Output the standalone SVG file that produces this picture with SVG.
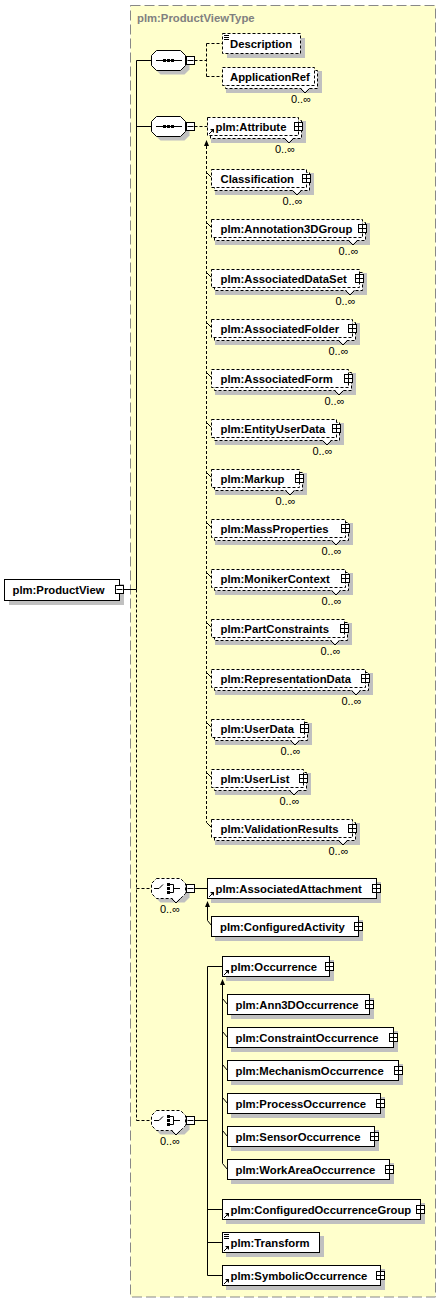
<svg xmlns="http://www.w3.org/2000/svg" xmlns:xlink="http://www.w3.org/1999/xlink" width="441" height="1303" viewBox="0 0 441 1303">
<style>
.t{font-family:"Liberation Sans",Arial,sans-serif;font-weight:bold;font-size:11.3px;fill:#000}
.m{font-family:"Liberation Sans",Arial,sans-serif;font-size:11px;fill:#000;text-anchor:end}
.ttl{font-family:"Liberation Sans",Arial,sans-serif;font-weight:bold;font-size:11.3px;fill:#808080}
.box{fill:#fff;stroke:#000;stroke-width:1}
.dbox{fill:#fff;stroke:#000;stroke-width:1;stroke-dasharray:3,2}
.sh{fill:#c0c0c0}
.ln{stroke:#000;stroke-width:1;fill:none}
.dl{stroke:#000;stroke-width:1;fill:none;stroke-dasharray:3,2}
</style>
<defs>
<g id="plus"><rect x="-4" y="-4" width="8" height="8" fill="#fff" stroke="#000"/><path d="M-4 0H4M0 -4V4" stroke="#000"/></g>
<g id="minus"><rect x="-4" y="-4" width="8" height="8" fill="#fff" stroke="#000"/><path d="M-3 0H3" stroke="#000"/></g>
<g id="ref"><path d="M1.5 -1.5L4.5 -4.5" stroke="#000"/><path d="M2.5 -6.5H6.5V-2.5Z" fill="#000"/></g>
<g id="doc"><path d="M1.5 2H6.5M1.5 4H6.5M1.5 6H6.5" stroke="#000"/></g>
<path id="oct" d="M156.5 -10H180.5L185.5 -5V5L180.5 10H156.5L151.5 5V-5Z"/>
<g id="seqIcon"><path d="M156 0H182" stroke="#000"/><rect x="163" y="-1.5" width="3" height="3" fill="#000"/><rect x="167" y="-1.5" width="3" height="3" fill="#000"/><rect x="171" y="-1.5" width="3" height="3" fill="#000"/></g>
<g id="chIcon"><path d="M154 0H159L163 -4M170 -4H173.5V4H170M173.5 0H180" stroke="#000" fill="none"/><rect x="167" y="-5.5" width="3" height="3" fill="#000"/><rect x="167" y="-1.5" width="3" height="3" fill="#000"/><rect x="167" y="2.5" width="3" height="3" fill="#000"/></g>
</defs>

<g id="background">
<rect x="130.5" y="5.5" width="305" height="1291.5" fill="#ffffcc" stroke="#888" stroke-dasharray="10,4"/>
<text class="ttl" x="137" y="22">plm:ProductViewType</text>
</g>

<g id="connectors">
<path class="ln" d="M124 589.5H136.5M136.5 60.5V589.5M136.5 60.5H151.5M136.5 126.5H151.5"/>
<path class="dl" d="M136.5 589.5V1120.5M136.5 888.5H151.5M136.5 1120.5H151.5"/>
<path class="dl" d="M194.5 60.5H206.5M206.5 43.5V76.5M206.5 43.5H222.5M206.5 76.5H222.5"/>
<path class="dl" d="M194.5 126.5H207.5"/>
<polygon points="206.5,140 204,146 209,146" fill="#000"/>
<path class="dl" d="M206.5 146V822.5"/>
<path class="ln" d="M206.5 172.5L211.5 177.5M206.5 222.5L211.5 227.5M206.5 272.5L211.5 277.5M206.5 322.5L211.5 327.5M206.5 372.5L211.5 377.5M206.5 422.5L211.5 427.5M206.5 472.5L211.5 477.5M206.5 522.5L211.5 527.5M206.5 572.5L211.5 577.5M206.5 622.5L211.5 627.5M206.5 672.5L211.5 677.5M206.5 722.5L211.5 727.5M206.5 772.5L211.5 777.5M206.5 822.5L211.5 827.5"/>
<path class="ln" d="M194.5 888.5H207.5M207.5 907V920.5L211.5 925.5"/>
<polygon points="207.5,901 205,907 210,907" fill="#000"/>
<path class="ln" d="M194.5 1120.5H207.5M207.5 966.5V1275.5M207.5 966.5H222.5M207.5 1209.5H222.5M207.5 1242.5H222.5M207.5 1275.5H222.5"/>
<polygon points="222.5,979 220,985 225,985" fill="#000"/>
<path class="ln" d="M222.5 985V1163.5M222.5 998.5L227.5 1004.5M222.5 1031.5L227.5 1037.5M222.5 1064.5L227.5 1070.5M222.5 1097.5L227.5 1103.5M222.5 1130.5L227.5 1136.5M222.5 1163.5L227.5 1169.5"/>
</g>

<g id="ProductView">
<rect class="sh" x="9" y="584" width="115" height="21"/>
<rect class="box" x="4.5" y="579.5" width="115" height="21"/>
<text class="t" x="12.5" y="594">plm:ProductView</text>
<use xlink:href="#minus" transform="translate(119.5,589.5)"/>
</g>

<g id="seq1">
<use xlink:href="#oct" class="sh" transform="translate(4,64.5)"/>
<use xlink:href="#oct" fill="#fff" stroke="#000" transform="translate(0,60.5)"/>
<use xlink:href="#seqIcon" transform="translate(0,60.5)"/>
<use xlink:href="#minus" transform="translate(190.5,60.5)"/>
</g>

<g id="Description">
<rect class="sh" x="227" y="38" width="78" height="20"/>
<rect class="dbox" x="222.5" y="33.5" width="78" height="20"/>
<use xlink:href="#doc" transform="translate(222.5,33.5)"/>
<text class="t" x="230" y="47.5">Description</text>
</g>

<g id="ApplicationRef">
<rect class="sh" x="226" y="71" width="96" height="22"/>
<rect class="dbox" x="225.5" y="70.5" width="92" height="18"/>
<rect class="dbox" x="222.5" y="67.5" width="92" height="18"/>
<polygon points="301,88 309,88 305,92" fill="#fff"/>
<polyline class="ln" points="300.5,88.5 305,93 309.5,88.5"/>
<text class="t" x="230" y="81">ApplicationRef</text>
<text class="m" x="311" y="102.5">0..∞</text>
</g>

<g id="seq2">
<use xlink:href="#oct" class="sh" transform="translate(4,130.5)"/>
<use xlink:href="#oct" fill="#fff" stroke="#000" transform="translate(0,126.5)"/>
<use xlink:href="#seqIcon" transform="translate(0,126.5)"/>
<use xlink:href="#minus" transform="translate(190.5,126.5)"/>
</g>

<g id="Attribute">
<rect class="sh" x="211" y="121" width="95" height="22"/>
<rect class="dbox" x="210.5" y="120.5" width="91" height="18"/>
<rect class="dbox" x="207.5" y="117.5" width="91" height="18"/>
<polygon points="285,138 293,138 289,142" fill="#fff"/>
<polyline class="ln" points="284.5,138.5 289,143 293.5,138.5"/>
<use xlink:href="#ref" transform="translate(207.5,135.5)"/>
<text class="t" x="215.5" y="131">plm:Attribute</text>
<use xlink:href="#plus" transform="translate(298.5,126.5)"/>
<text class="m" x="295" y="153">0..∞</text>
</g>

<g id="Classification">
<rect class="sh" x="215" y="173" width="99" height="22"/>
<rect class="dbox" x="214.5" y="172.5" width="95" height="18"/>
<rect class="dbox" x="211.5" y="169.5" width="95" height="18"/>
<polygon points="293,190 301,190 297,194" fill="#fff"/>
<polyline class="ln" points="292.5,190.5 297,195 301.5,190.5"/>
<text class="t" x="220.5" y="183">Classification</text>
<use xlink:href="#plus" transform="translate(306.5,178.5)"/>
<text class="m" x="302.5" y="204.5">0..∞</text>
</g>

<g id="Annotation3DGroup">
<rect class="sh" x="215" y="223" width="155" height="22"/>
<rect class="dbox" x="214.5" y="222.5" width="151" height="18"/>
<rect class="dbox" x="211.5" y="219.5" width="151" height="18"/>
<polygon points="349,240 357,240 353,244" fill="#fff"/>
<polyline class="ln" points="348.5,240.5 353,245 357.5,240.5"/>
<text class="t" x="220.5" y="233">plm:Annotation3DGroup</text>
<use xlink:href="#plus" transform="translate(362.5,228.5)"/>
<text class="m" x="358.5" y="254.5">0..∞</text>
</g>

<g id="AssociatedDataSet">
<rect class="sh" x="215" y="273" width="152" height="22"/>
<rect class="dbox" x="214.5" y="272.5" width="148" height="18"/>
<rect class="dbox" x="211.5" y="269.5" width="148" height="18"/>
<polygon points="346,290 354,290 350,294" fill="#fff"/>
<polyline class="ln" points="345.5,290.5 350,295 354.5,290.5"/>
<text class="t" x="220.5" y="283">plm:AssociatedDataSet</text>
<use xlink:href="#plus" transform="translate(359.5,278.5)"/>
<text class="m" x="355.5" y="304.5">0..∞</text>
</g>

<g id="AssociatedFolder">
<rect class="sh" x="215" y="323" width="145" height="22"/>
<rect class="dbox" x="214.5" y="322.5" width="141" height="18"/>
<rect class="dbox" x="211.5" y="319.5" width="141" height="18"/>
<polygon points="339,340 347,340 343,344" fill="#fff"/>
<polyline class="ln" points="338.5,340.5 343,345 347.5,340.5"/>
<text class="t" x="220.5" y="333">plm:AssociatedFolder</text>
<use xlink:href="#plus" transform="translate(352.5,328.5)"/>
<text class="m" x="348.5" y="354.5">0..∞</text>
</g>

<g id="AssociatedForm">
<rect class="sh" x="215" y="373" width="141" height="22"/>
<rect class="dbox" x="214.5" y="372.5" width="137" height="18"/>
<rect class="dbox" x="211.5" y="369.5" width="137" height="18"/>
<polygon points="335,390 343,390 339,394" fill="#fff"/>
<polyline class="ln" points="334.5,390.5 339,395 343.5,390.5"/>
<text class="t" x="220.5" y="383">plm:AssociatedForm</text>
<use xlink:href="#plus" transform="translate(348.5,378.5)"/>
<text class="m" x="344.5" y="404.5">0..∞</text>
</g>

<g id="EntityUserData">
<rect class="sh" x="215" y="423" width="129" height="22"/>
<rect class="dbox" x="214.5" y="422.5" width="125" height="18"/>
<rect class="dbox" x="211.5" y="419.5" width="125" height="18"/>
<polygon points="323,440 331,440 327,444" fill="#fff"/>
<polyline class="ln" points="322.5,440.5 327,445 331.5,440.5"/>
<text class="t" x="220.5" y="433">plm:EntityUserData</text>
<use xlink:href="#plus" transform="translate(336.5,428.5)"/>
<text class="m" x="332.5" y="454.5">0..∞</text>
</g>

<g id="Markup">
<rect class="sh" x="215" y="473" width="92" height="22"/>
<rect class="dbox" x="214.5" y="472.5" width="88" height="18"/>
<rect class="dbox" x="211.5" y="469.5" width="88" height="18"/>
<polygon points="286,490 294,490 290,494" fill="#fff"/>
<polyline class="ln" points="285.5,490.5 290,495 294.5,490.5"/>
<text class="t" x="220.5" y="483">plm:Markup</text>
<use xlink:href="#plus" transform="translate(299.5,478.5)"/>
<text class="m" x="295.5" y="504.5">0..∞</text>
</g>

<g id="MassProperties">
<rect class="sh" x="215" y="523" width="138" height="22"/>
<rect class="dbox" x="214.5" y="522.5" width="134" height="18"/>
<rect class="dbox" x="211.5" y="519.5" width="134" height="18"/>
<polygon points="332,540 340,540 336,544" fill="#fff"/>
<polyline class="ln" points="331.5,540.5 336,545 340.5,540.5"/>
<text class="t" x="220.5" y="533">plm:MassProperties</text>
<use xlink:href="#plus" transform="translate(345.5,528.5)"/>
<text class="m" x="341.5" y="554.5">0..∞</text>
</g>

<g id="MonikerContext">
<rect class="sh" x="215" y="573" width="138" height="22"/>
<rect class="dbox" x="214.5" y="572.5" width="134" height="18"/>
<rect class="dbox" x="211.5" y="569.5" width="134" height="18"/>
<polygon points="332,590 340,590 336,594" fill="#fff"/>
<polyline class="ln" points="331.5,590.5 336,595 340.5,590.5"/>
<text class="t" x="220.5" y="583">plm:MonikerContext</text>
<use xlink:href="#plus" transform="translate(345.5,578.5)"/>
<text class="m" x="341.5" y="604.5">0..∞</text>
</g>

<g id="PartConstraints">
<rect class="sh" x="215" y="623" width="137" height="22"/>
<rect class="dbox" x="214.5" y="622.5" width="133" height="18"/>
<rect class="dbox" x="211.5" y="619.5" width="133" height="18"/>
<polygon points="331,640 339,640 335,644" fill="#fff"/>
<polyline class="ln" points="330.5,640.5 335,645 339.5,640.5"/>
<text class="t" x="220.5" y="633">plm:PartConstraints</text>
<use xlink:href="#plus" transform="translate(344.5,628.5)"/>
<text class="m" x="340.5" y="654.5">0..∞</text>
</g>

<g id="RepresentationData">
<rect class="sh" x="215" y="673" width="158" height="22"/>
<rect class="dbox" x="214.5" y="672.5" width="154" height="18"/>
<rect class="dbox" x="211.5" y="669.5" width="154" height="18"/>
<polygon points="352,690 360,690 356,694" fill="#fff"/>
<polyline class="ln" points="351.5,690.5 356,695 360.5,690.5"/>
<text class="t" x="220.5" y="683">plm:RepresentationData</text>
<use xlink:href="#plus" transform="translate(365.5,678.5)"/>
<text class="m" x="361.5" y="704.5">0..∞</text>
</g>

<g id="UserData">
<rect class="sh" x="215" y="723" width="97" height="22"/>
<rect class="dbox" x="214.5" y="722.5" width="93" height="18"/>
<rect class="dbox" x="211.5" y="719.5" width="93" height="18"/>
<polygon points="291,740 299,740 295,744" fill="#fff"/>
<polyline class="ln" points="290.5,740.5 295,745 299.5,740.5"/>
<text class="t" x="220.5" y="733">plm:UserData</text>
<use xlink:href="#plus" transform="translate(304.5,728.5)"/>
<text class="m" x="300.5" y="754.5">0..∞</text>
</g>

<g id="UserList">
<rect class="sh" x="215" y="773" width="96" height="22"/>
<rect class="dbox" x="214.5" y="772.5" width="92" height="18"/>
<rect class="dbox" x="211.5" y="769.5" width="92" height="18"/>
<polygon points="290,790 298,790 294,794" fill="#fff"/>
<polyline class="ln" points="289.5,790.5 294,795 298.5,790.5"/>
<text class="t" x="220.5" y="783">plm:UserList</text>
<use xlink:href="#plus" transform="translate(303.5,778.5)"/>
<text class="m" x="299.5" y="804.5">0..∞</text>
</g>

<g id="ValidationResults">
<rect class="sh" x="215" y="823" width="145" height="22"/>
<rect class="dbox" x="214.5" y="822.5" width="141" height="18"/>
<rect class="dbox" x="211.5" y="819.5" width="141" height="18"/>
<polygon points="339,840 347,840 343,844" fill="#fff"/>
<polyline class="ln" points="338.5,840.5 343,845 347.5,840.5"/>
<text class="t" x="220.5" y="833">plm:ValidationResults</text>
<use xlink:href="#plus" transform="translate(352.5,828.5)"/>
<text class="m" x="348.5" y="854.5">0..∞</text>
</g>

<g id="choice1">
<use xlink:href="#oct" class="sh" transform="translate(4,892.5)"/>
<use xlink:href="#oct" fill="#fff" stroke="#000" stroke-dasharray="3,2" transform="translate(0,888.5)"/>
<polygon points="172,898 180,898 176,902" fill="#fff"/>
<polyline class="ln" points="171.5,898.5 176,903 180.5,898.5"/>
<use xlink:href="#chIcon" transform="translate(0,888.5)"/>
<use xlink:href="#minus" transform="translate(190.5,888.5)"/>
<text class="m" x="180" y="913">0..∞</text>
</g>

<g id="AssociatedAttachment">
<rect class="sh" x="211" y="882" width="170" height="21"/>
<rect class="box" x="207.5" y="878.5" width="169" height="20"/>
<use xlink:href="#ref" transform="translate(207.5,898.5)"/>
<text class="t" x="215.5" y="893">plm:AssociatedAttachment</text>
<use xlink:href="#plus" transform="translate(376.5,888.5)"/>
</g>

<g id="ConfiguredActivity">
<rect class="sh" x="215" y="920" width="148" height="21"/>
<rect class="box" x="211.5" y="916.5" width="147" height="20"/>
<text class="t" x="220" y="931">plm:ConfiguredActivity</text>
<use xlink:href="#plus" transform="translate(358.5,926.5)"/>
</g>

<g id="choice2">
<use xlink:href="#oct" class="sh" transform="translate(4,1124.5)"/>
<use xlink:href="#oct" fill="#fff" stroke="#000" stroke-dasharray="3,2" transform="translate(0,1120.5)"/>
<polygon points="172,1130 180,1130 176,1134" fill="#fff"/>
<polyline class="ln" points="171.5,1130.5 176,1135 180.5,1130.5"/>
<use xlink:href="#chIcon" transform="translate(0,1120.5)"/>
<use xlink:href="#minus" transform="translate(190.5,1120.5)"/>
<text class="m" x="180" y="1145">0..∞</text>
</g>

<g id="Occurrence">
<rect class="sh" x="226" y="960" width="108" height="21"/>
<rect class="box" x="222.5" y="956.5" width="107" height="20"/>
<use xlink:href="#ref" transform="translate(222.5,976.5)"/>
<text class="t" x="230.5" y="971">plm:Occurrence</text>
<use xlink:href="#plus" transform="translate(329.5,966.5)"/>
</g>

<g id="Ann3DOccurrence">
<rect class="sh" x="231" y="998" width="143" height="21"/>
<rect class="box" x="227.5" y="994.5" width="142" height="20"/>
<text class="t" x="235.5" y="1009">plm:Ann3DOccurrence</text>
<use xlink:href="#plus" transform="translate(369.5,1004.5)"/>
</g>

<g id="ConstraintOccurrence">
<rect class="sh" x="231" y="1031" width="167" height="21"/>
<rect class="box" x="227.5" y="1027.5" width="166" height="20"/>
<text class="t" x="235.5" y="1042">plm:ConstraintOccurrence</text>
<use xlink:href="#plus" transform="translate(393.5,1037.5)"/>
</g>

<g id="MechanismOccurrence">
<rect class="sh" x="231" y="1064" width="172" height="21"/>
<rect class="box" x="227.5" y="1060.5" width="171" height="20"/>
<text class="t" x="235.5" y="1075">plm:MechanismOccurrence</text>
<use xlink:href="#plus" transform="translate(398.5,1070.5)"/>
</g>

<g id="ProcessOccurrence">
<rect class="sh" x="231" y="1097" width="154" height="21"/>
<rect class="box" x="227.5" y="1093.5" width="153" height="20"/>
<text class="t" x="235.5" y="1108">plm:ProcessOccurrence</text>
<use xlink:href="#plus" transform="translate(380.5,1103.5)"/>
</g>

<g id="SensorOccurrence">
<rect class="sh" x="231" y="1130" width="148" height="21"/>
<rect class="box" x="227.5" y="1126.5" width="147" height="20"/>
<text class="t" x="235.5" y="1141">plm:SensorOccurrence</text>
<use xlink:href="#plus" transform="translate(374.5,1136.5)"/>
</g>

<g id="WorkAreaOccurrence">
<rect class="sh" x="231" y="1163" width="163" height="21"/>
<rect class="box" x="227.5" y="1159.5" width="162" height="20"/>
<text class="t" x="235.5" y="1174">plm:WorkAreaOccurrence</text>
<use xlink:href="#plus" transform="translate(389.5,1169.5)"/>
</g>

<g id="ConfiguredOccurrenceGroup">
<rect class="sh" x="226" y="1203" width="199" height="21"/>
<rect class="box" x="222.5" y="1199.5" width="198" height="20"/>
<use xlink:href="#ref" transform="translate(222.5,1219.5)"/>
<text class="t" x="230.5" y="1214">plm:ConfiguredOccurrenceGroup</text>
<use xlink:href="#plus" transform="translate(420.5,1209.5)"/>
</g>

<g id="Transform">
<rect class="sh" x="226" y="1236" width="98" height="21"/>
<rect class="box" x="222.5" y="1232.5" width="97" height="20"/>
<use xlink:href="#doc" transform="translate(222.5,1232.5)"/>
<use xlink:href="#ref" transform="translate(222.5,1252.5)"/>
<text class="t" x="230.5" y="1247">plm:Transform</text>
</g>

<g id="SymbolicOccurrence">
<rect class="sh" x="226" y="1269" width="159" height="21"/>
<rect class="box" x="222.5" y="1265.5" width="158" height="20"/>
<use xlink:href="#ref" transform="translate(222.5,1285.5)"/>
<text class="t" x="230.5" y="1280">plm:SymbolicOccurrence</text>
<use xlink:href="#plus" transform="translate(380.5,1275.5)"/>
</g>
</svg>
